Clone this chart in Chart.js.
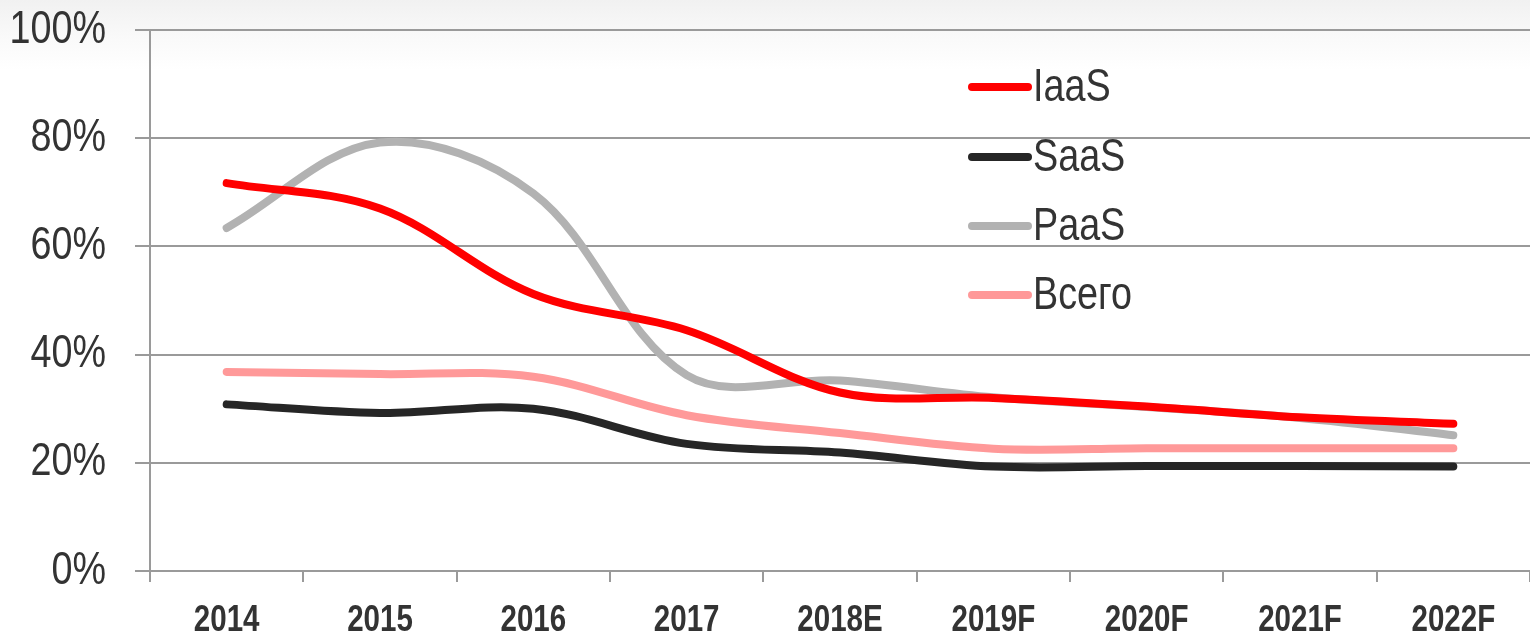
<!DOCTYPE html>
<html>
<head>
<meta charset="utf-8">
<script src="https://cdn.jsdelivr.net/npm/chart.js@4.4.1/dist/chart.umd.min.js"></script>
<style>
  html, body { margin: 0; padding: 0; }
  body { width: 1530px; height: 632px; background: linear-gradient(to bottom, #f1f1f1 0px, #fafafa 40px, #ffffff 70px, #ffffff 632px); overflow: hidden; }
  #wrap { position: relative; width: 1530px; height: 632px; }
</style>
</head>
<body>
<div id="wrap"><canvas id="c" width="1530" height="632"></canvas></div>
<script>
const categories = ['2014', '2015', '2016', '2017', '2018E', '2019F', '2020F', '2021F', '2022F'];
const iaas  = [71.7, 67.0, 51.2, 44.5, 33.0, 32.0, 30.4, 28.4, 27.2];
const saas  = [30.8, 29.2, 30.0, 23.5, 21.9, 19.3, 19.4, 19.4, 19.3];
const paas  = [63.4, 79.2, 69.8, 36.2, 35.2, 32.1, 30.3, 28.3, 25.1];
const total = [36.8, 36.4, 35.9, 28.8, 25.5, 22.6, 22.7, 22.7, 22.7];
const seriesNames = ['IaaS', 'SaaS', 'PaaS', 'Всего'];
const yTicks = [0, 20, 40, 60, 80, 100];

const FONT = '"Liberation Sans Narrow", "Arial Narrow", "Liberation Sans", Arial, sans-serif';
const colors = ['#ff0000', '#262626', '#b2b2b2', '#ff9999'];
const seriesData = [iaas, saas, paas, total];

// Condense text horizontally (the reference uses a narrow typeface)
const CONDENSE = 0.82;
const origFillText = CanvasRenderingContext2D.prototype.fillText;
CanvasRenderingContext2D.prototype.fillText = function (t, x, y, mw) {
  const w = this.measureText(t).width * CONDENSE;
  return origFillText.call(this, t, x, y, mw !== undefined ? Math.min(mw, w) : w);
};

const legendPlugin = {
  id: 'customLegend',
  afterDraw(chart) {
    const ctx = chart.ctx;
    const ca = chart.chartArea;
    const x0 = ca.left + 822;
    const lineLen = 56;
    const ys = [87, 157, 226, 295];
    ctx.save();
    chart.data.datasets.forEach((ds, i) => {
      ctx.strokeStyle = ds.borderColor;
      ctx.lineWidth = 8;
      ctx.lineCap = 'round';
      ctx.beginPath();
      ctx.moveTo(x0, ys[i]);
      ctx.lineTo(x0 + lineLen, ys[i]);
      ctx.stroke();
      ctx.fillStyle = '#333333';
      ctx.font = '46px ' + FONT;
      ctx.textBaseline = 'middle';
      ctx.textAlign = 'left';
      ctx.fillText(ds.label, x0 + lineLen + 5, ys[i] + 1);
    });
    ctx.restore();
  }
};

new Chart(document.getElementById('c'), {
  type: 'line',
  data: {
    labels: categories,
    datasets: seriesNames.map((name, i) => ({
      label: name,
      data: seriesData[i],
      borderColor: colors[i],
      backgroundColor: colors[i],
      borderWidth: 8,
      borderCapStyle: 'round',
      borderJoinStyle: 'round',
      pointRadius: 0,
      pointHoverRadius: 0,
      tension: 0.35,
      fill: false
    }))
  },
  options: {
    responsive: false,
    animation: false,
    events: [],
    layout: { padding: { top: 30, right: 0, bottom: 0, left: 0 } },
    plugins: {
      legend: { display: false },
      tooltip: { enabled: false }
    },
    scales: {
      x: {
        type: 'category',
        offset: true,
        afterFit(scale) {
          scale.height = 61;
          scale.paddingLeft = 0; scale.paddingRight = 0;
        },
        grid: {
          offset: true,
          drawOnChartArea: false,
          drawTicks: true,
          tickLength: 11,
          color: '#9a9a9a',
          lineWidth: 2
        },
        border: { display: true, color: '#9a9a9a', width: 2 },
        ticks: {
          color: '#333333',
          padding: 17,
          maxRotation: 0,
          autoSkip: false,
          font: { family: FONT, size: 36, weight: 'bold' }
        }
      },
      y: {
        min: 0,
        max: 100,
        afterFit(scale) {
          scale.width = 150;
          scale.paddingTop = 0; scale.paddingBottom = 0;
        },
        afterBuildTicks(scale) { scale.ticks = yTicks.map(v => ({ value: v })); },
        grid: {
          drawTicks: true,
          tickLength: 15,
          color: '#9a9a9a',
          lineWidth: 2
        },
        border: { display: true, color: '#9a9a9a', width: 2 },
        ticks: {
          color: '#333333',
          padding: 29,
          callback: v => v + '%',
          font: { family: FONT, size: 46 }
        }
      }
    }
  },
  plugins: [legendPlugin]
});
</script>
</body>
</html>
